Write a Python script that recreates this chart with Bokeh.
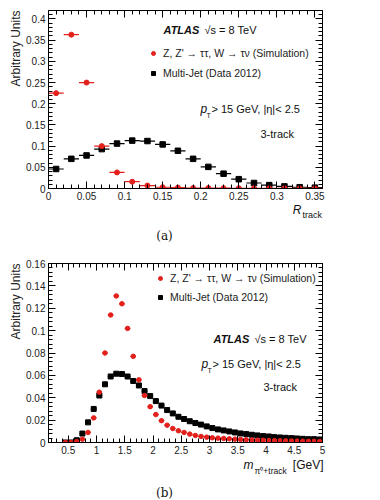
import math
from bokeh.plotting import figure
from bokeh.models import (Range1d, LinearAxis, SingleIntervalTicker, CustomJSTickFormatter,
                          Label, Legend, LegendItem, Title)
from bokeh.layouts import column
from bokeh.embed import file_html
from bokeh.resources import INLINE

RED = "#e3201c"
FONT = "Liberation Sans"

# ---------------- data, panel (a) ----------------
rtrack_bin_centers = [0.01, 0.03, 0.05, 0.07, 0.09, 0.11, 0.13, 0.15, 0.17,
                      0.19, 0.21, 0.23, 0.25, 0.27, 0.29, 0.31, 0.33, 0.35]
rtrack_bin_half_width = 0.01
rtrack_signal = [0.225, 0.363, 0.250, 0.100, 0.038, 0.016, 0.007, 0.003, 0.002,
                 0.001, 0.001, 0.0008, 0.0006, 0.0005, 0.0004, 0.0003, 0.0002, 0.0002]
rtrack_multijet = [0.046, 0.070, 0.078, 0.093, 0.106, 0.113, 0.112, 0.104, 0.089,
                   0.070, 0.051, 0.035, 0.022, 0.013, 0.008, 0.005, 0.003, 0.002]

# ---------------- data, panel (b) ----------------
mass_bin_centers = [0.45, 0.55, 0.65, 0.75, 0.85, 0.95, 1.05, 1.15, 1.25, 1.35,
                    1.45, 1.55, 1.65, 1.75, 1.85, 1.95, 2.05, 2.15, 2.25, 2.35,
                    2.45, 2.55, 2.65, 2.75, 2.85, 2.95, 3.05, 3.15, 3.25, 3.35,
                    3.45, 3.55, 3.65, 3.75, 3.85, 3.95, 4.05, 4.15, 4.25, 4.35,
                    4.45, 4.55, 4.65, 4.75, 4.85, 4.95]
mass_bin_half_width = 0.05
mass_signal = [0.0, 0.0, 0.0008, 0.003, 0.009, 0.022, 0.045, 0.080, 0.114, 0.131,
               0.124, 0.102, 0.077, 0.056, 0.042, 0.032, 0.025, 0.0195, 0.0155, 0.0125,
               0.0105, 0.009, 0.0075, 0.0063, 0.0054, 0.0048, 0.0042, 0.0039, 0.0036, 0.0033,
               0.003, 0.0027, 0.0025, 0.0023, 0.0021, 0.002, 0.0018, 0.0017, 0.0016, 0.0015,
               0.0014, 0.0013, 0.0012, 0.0011, 0.0011, 0.001]
mass_multijet = [0.0, 0.0, 0.002, 0.008, 0.018, 0.030, 0.042, 0.052, 0.059, 0.0615,
                 0.0612, 0.059, 0.055, 0.051, 0.046, 0.0415, 0.037, 0.033, 0.029, 0.026,
                 0.023, 0.021, 0.019, 0.0174, 0.016, 0.0144, 0.0129, 0.0117, 0.0108, 0.0099,
                 0.009, 0.0081, 0.0075, 0.0069, 0.0063, 0.0057, 0.0054, 0.0048, 0.0045, 0.0042,
                 0.0039, 0.0036, 0.0033, 0.003, 0.003, 0.0027]

signal_label = "Z, Z' \u2192 \u03c4\u03c4, W \u2192 \u03c4\u03bd (Simulation)"
multijet_label = "Multi-Jet (Data 2012)"

# ---------------- geometry ----------------
W, H = 380, 250
FL, FR = 48, 322           # frame left / right (px)

FMT = CustomJSTickFormatter(code="return parseFloat(tick.toFixed(4)).toString();")


def config_axis(ax, interval, labels=True):
    ax.ticker = SingleIntervalTicker(interval=interval, num_minor_ticks=5)
    ax.major_tick_in = 7
    ax.major_tick_out = 0
    ax.minor_tick_in = 4
    ax.minor_tick_out = 0
    ax.axis_line_color = "black"
    ax.major_tick_line_color = "black"
    ax.minor_tick_line_color = "black"
    ax.major_label_text_font = FONT
    ax.major_label_text_color = "#222222"
    if labels:
        ax.formatter = FMT
        ax.major_label_text_font_size = "10px"
        ax.major_label_standoff = 3
    else:
        ax.formatter = CustomJSTickFormatter(code="return '';")
        ax.major_label_text_font_size = "0px"
        ax.major_label_standoff = 0


def make_panel(xr, yr, xint, yint, top, bottom):
    p = figure(width=W, height=H, x_range=Range1d(*xr), y_range=Range1d(*yr),
               output_backend="svg", toolbar_location=None,
               min_border_left=FL, min_border_right=W - FR,
               min_border_top=top, min_border_bottom=bottom)
    p.grid.visible = False
    p.outline_line_color = "black"
    p.outline_line_width = 1
    p.background_fill_color = "white"
    p.border_fill_color = "white"
    config_axis(p.xaxis[0], xint)
    config_axis(p.yaxis[0], yint)
    ra = LinearAxis()
    config_axis(ra, yint, labels=False)
    p.add_layout(ra, "right")
    ta = LinearAxis()
    config_axis(ta, xint, labels=False)
    p.add_layout(ta, "above")
    p.add_layout(Title(text="Arbitrary Units", align="right", standoff=2,
                       text_font=FONT, text_font_size="12px", text_font_style="normal",
                       text_color="#222222"), "left")
    return p


def converter(xr, yr, ftop, fbot):
    def conv(px, py):
        x = xr[0] + (px - FL) / (FR - FL) * (xr[1] - xr[0])
        y = yr[0] + (fbot - py) / (fbot - ftop) * (yr[1] - yr[0])
        return x, y
    return conv


def add_text(p, conv, px, py, text, size="11px", style="normal", align="left",
             baseline="middle", font=FONT, color="#111111", place="center"):
    x, y = conv(px, py)
    lab = Label(x=x, y=y, text=text, text_font=font, text_font_size=size,
                text_font_style=style, text_align=align, text_baseline=baseline,
                text_color=color)
    p.add_layout(lab, place)


def add_series(p, centers, values, hw, color, marker, size):
    x0 = [c - hw for c in centers]
    x1 = [c + hw for c in centers]
    p.segment(x0=x0, y0=values, x1=x1, y1=values, line_color=color, line_width=1.2)
    return p.scatter(x=centers, y=values, marker=marker, size=size, color=color)


def add_legend(p, r_sig, r_bkg, loc, spacing):
    leg = Legend(items=[LegendItem(label=signal_label, renderers=[r_sig]),
                        LegendItem(label=multijet_label, renderers=[r_bkg])],
                 location=loc, orientation="vertical",
                 glyph_width=10, glyph_height=14, label_height=14, label_standoff=5,
                 spacing=spacing, padding=0, margin=0,
                 border_line_color=None, background_fill_alpha=0,
                 label_text_font=FONT, label_text_font_size="10.5px",
                 label_text_color="#222222")
    p.add_layout(leg)


# ================= panel (a) =================
XA, YA = (0.0, 0.36), (0.0, 0.42)
pa = make_panel(XA, YA, 0.05, 0.05, top=10, bottom=H - 188)
ca = converter(XA, YA, 10, 188)
rb = add_series(pa, rtrack_bin_centers, rtrack_multijet, rtrack_bin_half_width, "black", "square", 5.5)
rs = add_series(pa, rtrack_bin_centers, rtrack_signal, rtrack_bin_half_width, RED, "circle", 5)
add_legend(pa, rs, rb, (148 - FL, 188 - 80), 6)

add_text(pa, ca, 163, 29, "ATLAS", size="11px", style="bold italic")
add_text(pa, ca, 204, 29, "\u221as = 8 TeV", size="11px")
add_text(pa, ca, 200, 108, "p", size="12px", style="italic")
add_text(pa, ca, 206, 115, "T", size="7px")
add_text(pa, ca, 211, 108, "> 15 GeV, |\u03b7|< 2.5", size="11px")
add_text(pa, ca, 260, 133, "3-track", size="11px")
add_text(pa, ca, 301, 209, "R", size="12px", style="italic", align="right", place="below")
add_text(pa, ca, 302, 214, "track", size="9px", place="right")
add_text(pa, ca, 164, 235, "(a)", size="12px", align="center", font="DejaVu Serif", place="right")

# ================= panel (b) =================
XB, YB = (0.15, 5.0), (0.0, 0.16)
OFF = 250
pb = make_panel(XB, YB, 0.5, 0.02, top=263 - OFF, bottom=OFF + H - 442)
cb = converter(XB, YB, 263 - OFF, 442 - OFF)


def cbp(px, py):
    return cb(px, py - OFF)


mb = add_series(pb, mass_bin_centers, mass_multijet, mass_bin_half_width, "black", "square", 5)
ms = add_series(pb, mass_bin_centers, mass_signal, mass_bin_half_width, RED, "circle", 4.5)
add_legend(pb, ms, mb, (155 - FL, 442 - 304), 5)

add_text(pb, cbp, 213, 338, "ATLAS", size="11px", style="bold italic")
add_text(pb, cbp, 254, 338, "\u221as = 8 TeV", size="11px")
add_text(pb, cbp, 201, 363, "p", size="12px", style="italic")
add_text(pb, cbp, 207, 370, "T", size="7px")
add_text(pb, cbp, 212, 363, "> 15 GeV, |\u03b7|< 2.5", size="11px")
add_text(pb, cbp, 263, 386, "3-track", size="11px")
add_text(pb, cbp, 243, 464, "m", size="12px", style="italic", place="below")
add_text(pb, cbp, 254, 470, "\u03c0\u2070+track", size="8.5px", place="below")
add_text(pb, cbp, 323, 464, "[GeV]", size="12px", align="right", place="right")
add_text(pb, cbp, 164, 492, "(b)", size="12px", align="center", font="DejaVu Serif", place="right")

layout = column(pa, pb, spacing=0)
open("out.html", "w").write(file_html(layout, INLINE))
